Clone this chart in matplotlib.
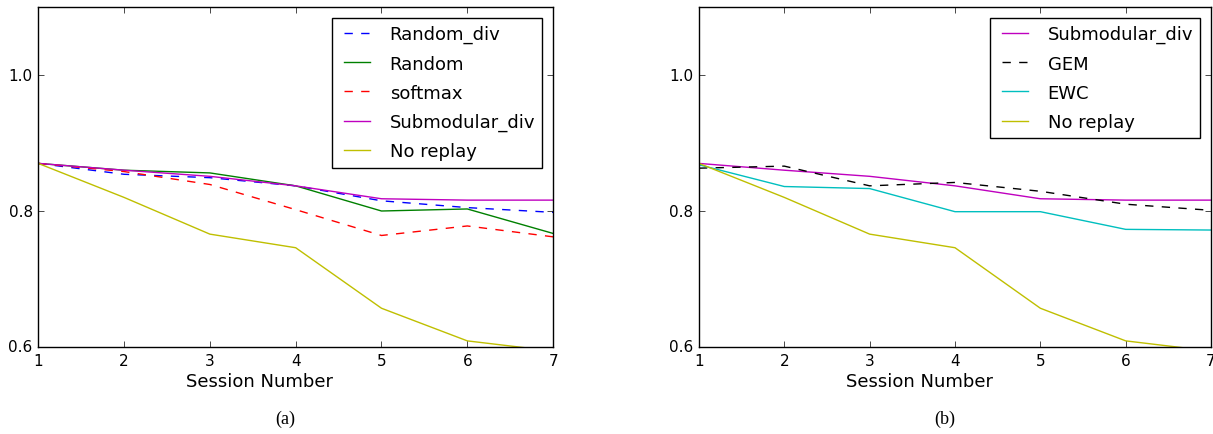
import matplotlib
matplotlib.use('Agg')
import matplotlib.pyplot as plt

plt.style.use('classic')
plt.rcParams['figure.facecolor'] = 'white'
plt.rcParams['savefig.facecolor'] = 'white'
plt.rcParams['font.family'] = ['DejaVu Sans']

sessions = [1, 2, 3, 4, 5, 6, 7]

# (a) replay strategies
random_div = [0.870, 0.854, 0.849, 0.837, 0.815, 0.805, 0.798]
random_rep = [0.870, 0.860, 0.856, 0.837, 0.800, 0.803, 0.767]
softmax = [0.870, 0.858, 0.839, 0.802, 0.764, 0.778, 0.762]
submodular_div = [0.870, 0.860, 0.851, 0.837, 0.818, 0.816, 0.816]
no_replay = [0.870, 0.820, 0.766, 0.746, 0.657, 0.609, 0.594]

# (b) other methods
gem = [0.863, 0.866, 0.837, 0.842, 0.829, 0.810, 0.801]
ewc = [0.868, 0.836, 0.833, 0.799, 0.799, 0.773, 0.772]

fig = plt.figure(figsize=(12.13, 4.35), dpi=100)
ax1 = fig.add_axes([0.0315, 0.2, 0.4245, 0.7816])
ax2 = fig.add_axes([0.5762, 0.2, 0.4222, 0.7816])

ax1.plot(sessions, random_div, 'b--', label='Random_div')
ax1.plot(sessions, random_rep, 'g-', label='Random')
ax1.plot(sessions, softmax, 'r--', label='softmax')
ax1.plot(sessions, submodular_div, 'm-', label='Submodular_div')
ax1.plot(sessions, no_replay, 'y-', label='No replay')

ax2.plot(sessions, submodular_div, 'm-', label='Submodular_div')
ax2.plot(sessions, gem, 'k--', label='GEM')
ax2.plot(sessions, ewc, 'c-', label='EWC')
ax2.plot(sessions, no_replay, 'y-', label='No replay')

for ax, tag in [(ax1, '(a)'), (ax2, '(b)')]:
    ax.set_xlim(1, 7)
    ax.set_ylim(0.6, 1.1)
    ax.set_xticks(sessions)
    ax.set_yticks([0.6, 0.8, 1.0])
    ax.tick_params(labelsize=11, pad=4)
    ax.set_xlabel('Session Number', fontsize=13)
    ax.xaxis.set_label_coords(0.43, -0.075)
    ax.legend(loc='upper right', fontsize=13, labelspacing=0.62,
              borderaxespad=0.6, handlelength=2.0, numpoints=2)
    ax.text(0.48, -0.21, tag, transform=ax.transAxes, ha='center', va='center',
            fontsize=13, family=['Liberation Serif'])

fig.savefig('out.png', dpi=100)
